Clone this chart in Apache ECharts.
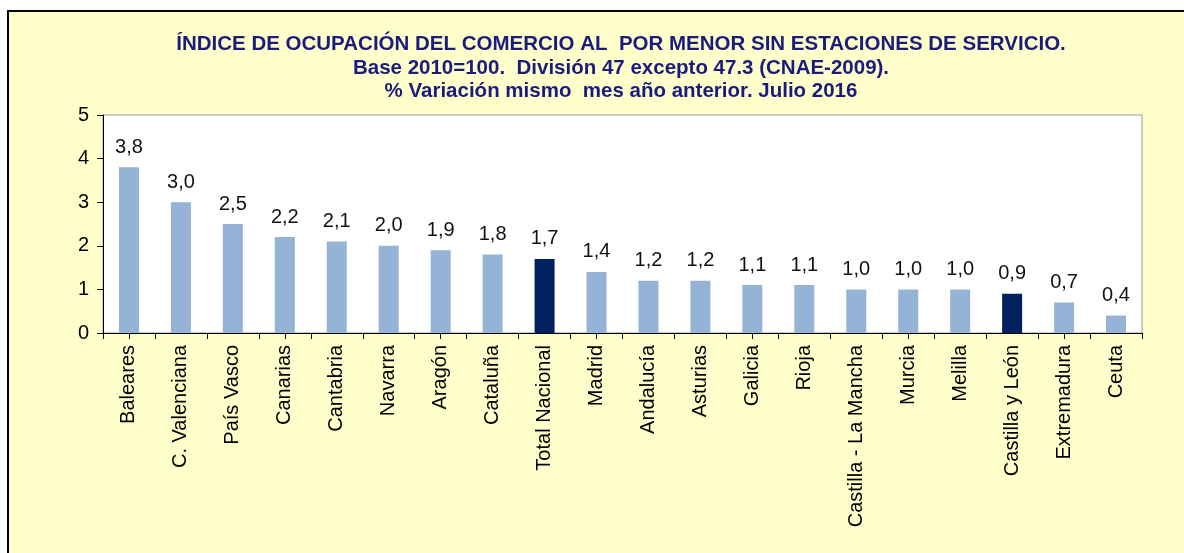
<!DOCTYPE html>
<html><head><meta charset="utf-8">
<script src="https://cdn.jsdelivr.net/npm/echarts@6/dist/echarts.min.js"></script>
<style>html,body{margin:0;padding:0;background:#fff}#c{width:1184px;height:553px}</style>
</head><body><div id="c"></div>
<script>
const categories = ["Baleares","C. Valenciana","País Vasco","Canarias","Cantabria","Navarra","Aragón","Cataluña","Total Nacional","Madrid","Andalucía","Asturias","Galicia","Rioja","Castilla - La Mancha","Murcia","Melilla","Castilla y León","Extremadura","Ceuta"];
const values = [3.8,3.0,2.5,2.2,2.1,2.0,1.9,1.8,1.7,1.4,1.2,1.2,1.1,1.1,1.0,1.0,1.0,0.9,0.7,0.4];
const highlighted = ["Total Nacional","Castilla y León"];
const titleLines = ["ÍNDICE DE OCUPACIÓN DEL COMERCIO AL  POR MENOR SIN ESTACIONES DE SERVICIO.","Base 2010=100.  División 47 excepto 47.3 (CNAE-2009).","% Variación mismo  mes año anterior. Julio 2016"];

const chart = echarts.init(document.getElementById('c'));
const font = "'Liberation Sans', Arial, sans-serif";
chart.setOption({
  animation:false,
  backgroundColor:'#ffffff',
  graphic:[
    {type:'rect',left:7,top:10,z:-10,shape:{x:0,y:0,width:1190,height:560},style:{fill:'#FFFFCC',stroke:'#000',lineWidth:2}},
    {type:'text',x:621,y:33,style:{text:titleLines.join('\n'),font:"bold 20.5px "+font,fill:'#1b1b7e',textAlign:'center',lineHeight:23.5}}
  ],
  grid:{left:103,right:42,top:115,bottom:220,show:true,backgroundColor:'#fff',borderColor:'#999',borderWidth:1},
  xAxis:[{
    type:'category',data:categories,
    axisLine:{lineStyle:{color:'#000',width:1}},
    axisTick:{show:true,length:6,lineStyle:{color:'#000'}},
    axisLabel:{rotate:90,color:'#000',fontSize:20,fontFamily:font,margin:12,interval:0}
  },{
    type:'category',data:categories,position:'bottom',
    axisLine:{show:false},
    axisTick:{show:true,alignWithLabel:true,length:6,lineStyle:{color:'#000'}},
    axisLabel:{show:false}
  }],
  yAxis:{
    type:'value',min:0,max:5,interval:1,
    axisLine:{show:true,lineStyle:{color:'#000'}},
    axisTick:{show:true,length:6,lineStyle:{color:'#000'}},
    splitLine:{show:false},
    axisLabel:{color:'#000',fontSize:20,fontFamily:font,margin:14}
  },
  series:[{
    type:'bar',barWidth:20,
    data:values.map((v,i)=>({value:v,itemStyle:{color:highlighted.includes(categories[i])?'#002060':'#95B3D7'}})),
    label:{show:true,position:'top',distance:10,color:'#111',fontSize:20,fontFamily:font,formatter:p=>p.value.toFixed(1).replace('.',',')}
  }]
});
</script></body></html>
